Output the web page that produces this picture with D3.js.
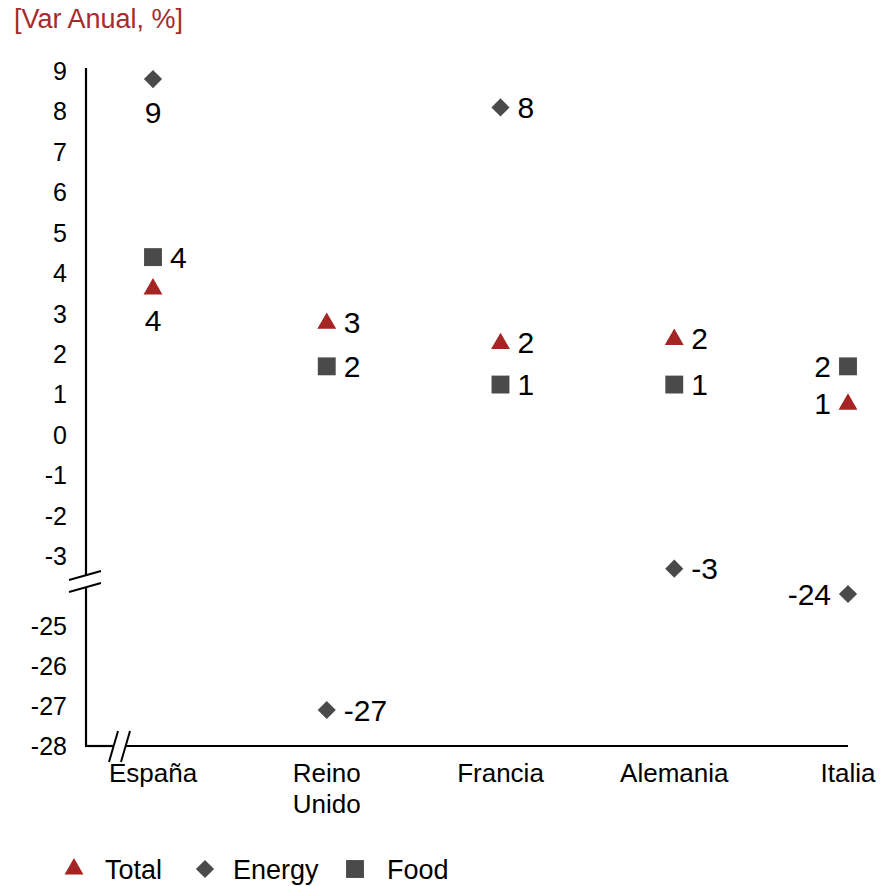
<!DOCTYPE html>
<html>
<head>
<meta charset="utf-8">
<script src="https://cdn.jsdelivr.net/npm/d3@7"></script>
<style>
  body { margin: 0; background: #fff; }
  text { font-family: "Liberation Sans", Arial, sans-serif; }
</style>
</head>
<body>
<div id="chart"></div>
<script>
const categories = [['España'], ['Reino', 'Unido'], ['Francia'], ['Alemania'], ['Italia']];
const totalValues = [3.65, 2.8, 2.3, 2.4, 0.8];
const energyValues = [8.8, -27.1, 8.1, -3.3, -24.2];
const foodValues = [4.4, 1.7, 1.25, 1.25, 1.7];
const topTicks = [9, 8, 7, 6, 5, 4, 3, 2, 1, 0, -1, -2, -3];
const bottomTicks = [-25, -26, -27, -28];

const width = 885, height = 886;
const axisX = 86, axisRight = 848, axisTop = 68, axisBottom = 746;

const svg = d3.select('#chart')
  .append('svg')
  .attr('width', width)
  .attr('height', height);

// broken y axis: two linear pieces
const yTop = d3.scaleLinear().domain([-3, 9]).range([556.5, 71]);
const yBot = d3.scaleLinear().domain([-28, -25]).range([axisBottom, 626]);
const y = (v) => (v > -10 ? yTop(v) : yBot(v));

const names = categories.map((c) => c.join(' '));
const x = d3.scalePoint().domain(names).range([153, axisRight]);

const red = '#a52424';
const grey = '#4a4a4a';

// title
svg.append('text')
  .attr('x', 14)
  .attr('y', 28)
  .style('font-size', '27px')
  .style('fill', '#a62b2b')
  .text('[Var Anual, %]');

// y axis line with a gap at the break
const axis = svg.append('g').attr('stroke', '#000').attr('stroke-width', 2.2);
axis.append('line').attr('x1', axisX).attr('x2', axisX).attr('y1', axisTop).attr('y2', 576);
axis.append('line').attr('x1', axisX).attr('x2', axisX).attr('y1', 587).attr('y2', axisBottom);
// x axis line with a gap at the break
axis.append('line').attr('x1', axisX - 1).attr('x2', 114).attr('y1', axisBottom).attr('y2', axisBottom);
axis.append('line').attr('x1', 126).attr('x2', axisRight).attr('y1', axisBottom).attr('y2', axisBottom);

// break marks
const breaks = svg.append('g').attr('stroke', '#000').attr('stroke-width', 2);
[[69, 580, 101, 571], [69, 592, 101, 583], [109, 762, 118, 731], [121, 762, 130, 731]]
  .forEach((b) => {
    breaks.append('line').attr('x1', b[0]).attr('y1', b[1]).attr('x2', b[2]).attr('y2', b[3]);
  });

// tick labels
svg.append('g')
  .selectAll('text')
  .data(topTicks.map((t) => ({ v: t, y: yTop(t) })).concat(bottomTicks.map((t) => ({ v: t, y: yBot(t) }))))
  .enter()
  .append('text')
  .attr('x', 67)
  .attr('y', (d) => d.y)
  .attr('dy', '.35em')
  .attr('text-anchor', 'end')
  .style('font-size', '25px')
  .text((d) => String(d.v));

// category labels
svg.append('g')
  .selectAll('text')
  .data(categories)
  .enter()
  .append('text')
  .attr('x', (d) => x(d.join(' ')))
  .attr('y', 782)
  .attr('text-anchor', 'middle')
  .style('font-size', '26px')
  .each(function (d) {
    d.forEach((line, i) => {
      d3.select(this).append('tspan')
        .attr('x', x(d.join(' ')))
        .attr('dy', i === 0 ? 0 : 31)
        .text(line);
    });
  });

const series = [
  { name: 'Total', values: totalValues, symbol: d3.symbolTriangle, size: 155, color: red },
  { name: 'Energy', values: energyValues, symbol: d3.symbolDiamond2, size: 210, color: grey },
  { name: 'Food', values: foodValues, symbol: d3.symbolSquare, size: 320, color: grey },
];

// where each data label sits next to its marker
const placement = (s, i) => {
  if (i === names.length - 1) return 'left';
  if (i === 0 && s.name !== 'Food') return 'below';
  return 'right';
};

series.forEach((s) => {
  const g = svg.append('g').attr('class', 'series');
  const pts = s.values.map((v, i) => ({ v: v, i: i, cx: x(names[i]), cy: y(v) }));

  g.selectAll('path')
    .data(pts)
    .enter()
    .append('path')
    .attr('d', d3.symbol().type(s.symbol).size(s.size))
    .attr('transform', (d) => 'translate(' + d.cx + ',' + (d.cy + (s.name === 'Total' ? 1.5 : 0)) + ')')
    .style('fill', s.color);

  g.selectAll('text')
    .data(pts)
    .enter()
    .append('text')
    .attr('x', (d) => {
      const p = placement(s, d.i);
      if (p === 'left') return d.cx - 17;
      if (p === 'right') return d.cx + 17;
      return d.cx;
    })
    .attr('y', (d) => (placement(s, d.i) === 'below' ? d.cy + 33 : d.cy))
    .attr('dy', '.36em')
    .attr('text-anchor', (d) => {
      const p = placement(s, d.i);
      if (p === 'left') return 'end';
      if (p === 'right') return 'start';
      return 'middle';
    })
    .style('font-size', '30px')
    .text((d) => String(Math.round(d.v)));
});

// legend
const legend = svg.append('g');
const legendPos = [[74, 105], [205, 233], [355, 387]];
series.forEach((s, i) => {
  legend.append('path')
    .attr('d', d3.symbol().type(s.symbol).size(s.size))
    .attr('transform', 'translate(' + legendPos[i][0] + ',' + 869 + ')')
    .style('fill', s.color);
  legend.append('text')
    .attr('x', legendPos[i][1])
    .attr('y', 869)
    .attr('dy', '.36em')
    .style('font-size', '27px')
    .text(s.name);
});
</script>
</body>
</html>
